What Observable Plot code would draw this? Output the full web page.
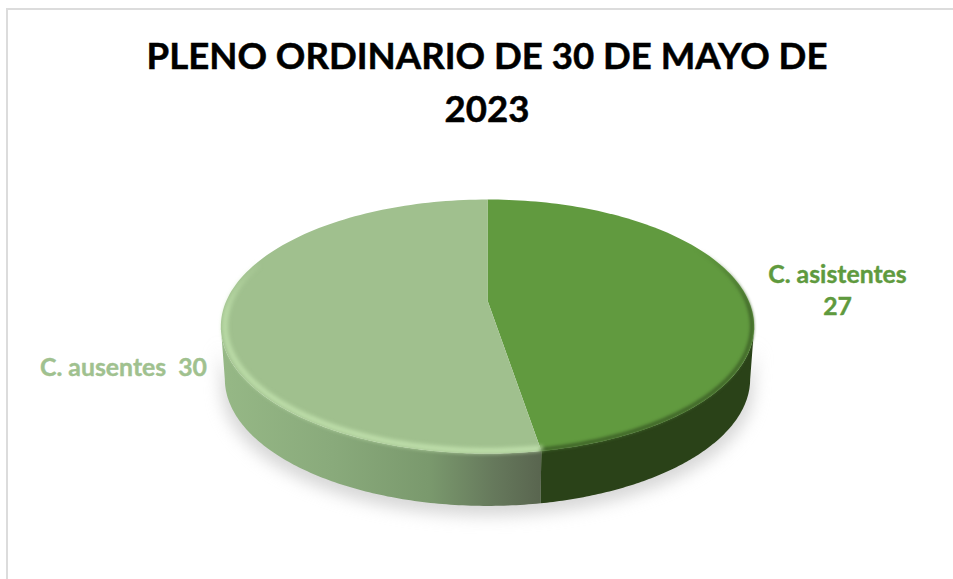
<!DOCTYPE html>
<html lang="es">
<head>
<meta charset="utf-8">
<script src="https://cdn.jsdelivr.net/npm/d3@7"></script>
<script src="https://cdn.jsdelivr.net/npm/@observablehq/plot@0.6"></script>
<style>
  html, body { margin: 0; padding: 0; background: #fff; overflow: hidden; }
  #frame { position: absolute; left: 6px; top: 8px; width: 1000px; height: 700px; border: 2px solid #dcdcdc; box-sizing: border-box; }
  #title { position: relative; height: 135px; box-sizing: border-box; padding-top: 29px; width: 720px; margin-left: 127px;
           text-align: center; font: 700 36.6px/53px Lato, sans-serif; color: #000; -webkit-text-stroke: 0.5px #000; }
  #chart { position: relative; }
  svg { display: block; }
</style>
</head>
<body>
<div id="frame"></div>
<div id="title"></div>
<div id="chart"></div>
<script>
const titleText = "PLENO ORDINARIO DE 30 DE MAYO DE 2023";
const categories = ["C. asistentes", "C. ausentes"];
const values = [27, 30];
const topColors = ["#619a3f", "#a0c08e"];
const labelColors = ["#5f9a3e", "#a0c18f"];

const total = d3.sum(values);
const split = values[0] / total * 360;
const tilt = 0.205, depth = 0.43;

// A point on the disc rim or centre, seen in perspective
function project(deg, r = 1, drop = 0, shrink = 1) {
  const a = deg * Math.PI / 180, u = r * Math.sin(a), v = -r * Math.cos(a), w = 1 - tilt * v;
  return { x: shrink * u / w, y: v / w + drop };
}
function arc(a0, a1, drop = 0, r = 1, shrink = 1) {
  return d3.range(0, 121).map(i => project(a0 + (a1 - a0) * i / 120, r, drop, shrink));
}
const limits = [102, 258];               // where the rim turns away from the viewer
const slice = (a0, a1) => [project(0, 0), ...arc(a0, a1)];
const wall = (a0, a1) => [...arc(a0, a1), ...arc(a1, a0, depth, 1, 0.985)];

const withFilter = (css) => function (index, scales, channels, dims, ctx, next) {
  const g = next(index, scales, channels, dims, ctx);
  g.style.filter = css;
  return g;
};
const shape = (rows, fill, extra = {}) => Plot.line(rows, { x: "x", y: "y", fill, stroke: "none", curve: "linear", ...extra });

const gradient = (s, id, vertical, stops) => {
  const g = s.append("linearGradient").attr("id", id);
  if (vertical) g.attr("x1", 0).attr("y1", 0).attr("x2", 0).attr("y2", 1);
  stops.forEach(([o, c, a = 1]) => g.append("stop").attr("offset", o).attr("stop-color", c).attr("stop-opacity", a));
};
const defs = () => {
  const s = d3.create("svg:defs");
  gradient(s, "wallLight", false, [[0, "#96b886"], [0.35, "#89aa7b"], [0.65, "#7a996d"], [0.85, "#66795c"], [1, "#59654f"]]);
  gradient(s, "rimDark", true, [[0, "#3f6428", 0], [0.3, "#3f6428", 0.9], [1, "#3f6428", 1]]);
  gradient(s, "rimLight", true, [[0, "#bfe0ab", 0.15], [0.25, "#bfe0ab", 0.9], [1, "#c2e2ae", 1]]);
  return s.node();
};

const labelStyle = { fontFamily: "Lato, sans-serif", fontWeight: 700, fontSize: 24.8, strokeWidth: 0.4, textAnchor: "middle" };

const plot = Plot.plot({
  width: 953, height: 444,
  margin: 0,
  style: { background: "transparent" },
  x: { domain: [-1, 1], range: [226, 748], axis: null },
  y: { domain: [-1, 1], range: [43.3, 286.7], axis: null },
  marks: [
    defs,
    shape(wall(limits[0], limits[1]).map(d => ({ x: d.x * 1.012, y: d.y + 0.08 })), "#bdbdbd",
      { render: withFilter("blur(8px)"), fillOpacity: 0.6 }),
    shape(wall(limits[1], split), "url(#wallLight)"),
    shape(wall(limits[0], split), "#2a4218"),
    shape(slice(0, split), topColors[0], { render: withFilter("blur(0.4px)") }),
    shape(slice(split, 360), topColors[1], { render: withFilter("blur(0.4px)") }),
    Plot.line(arc(limits[0] - 40, split, 0, 0.992), { x: "x", y: "y", stroke: "url(#rimDark)", strokeWidth: 4, render: withFilter("blur(1.8px)") }),
    Plot.line(arc(split, limits[1] + 30, 0, 0.985), { x: "x", y: "y", stroke: "url(#rimLight)", strokeWidth: 5, render: withFilter("blur(2px)") }),
    Plot.text([categories[0] + "\n" + values[0]], {
      text: d => d, frameAnchor: "top-left", dx: 837, dy: 125, lineHeight: 1.29,
      ...labelStyle, fill: labelColors[0], stroke: labelColors[0]
    }),
    Plot.text([categories[1] + "  " + values[1]], {
      text: d => d, frameAnchor: "top-left", dx: 123, dy: 223,
      ...labelStyle, fill: labelColors[1], stroke: labelColors[1], style: "white-space:pre"
    })
  ]
});
document.getElementById("title").textContent = titleText;
document.getElementById("chart").append(plot);
</script>
</body>
</html>
